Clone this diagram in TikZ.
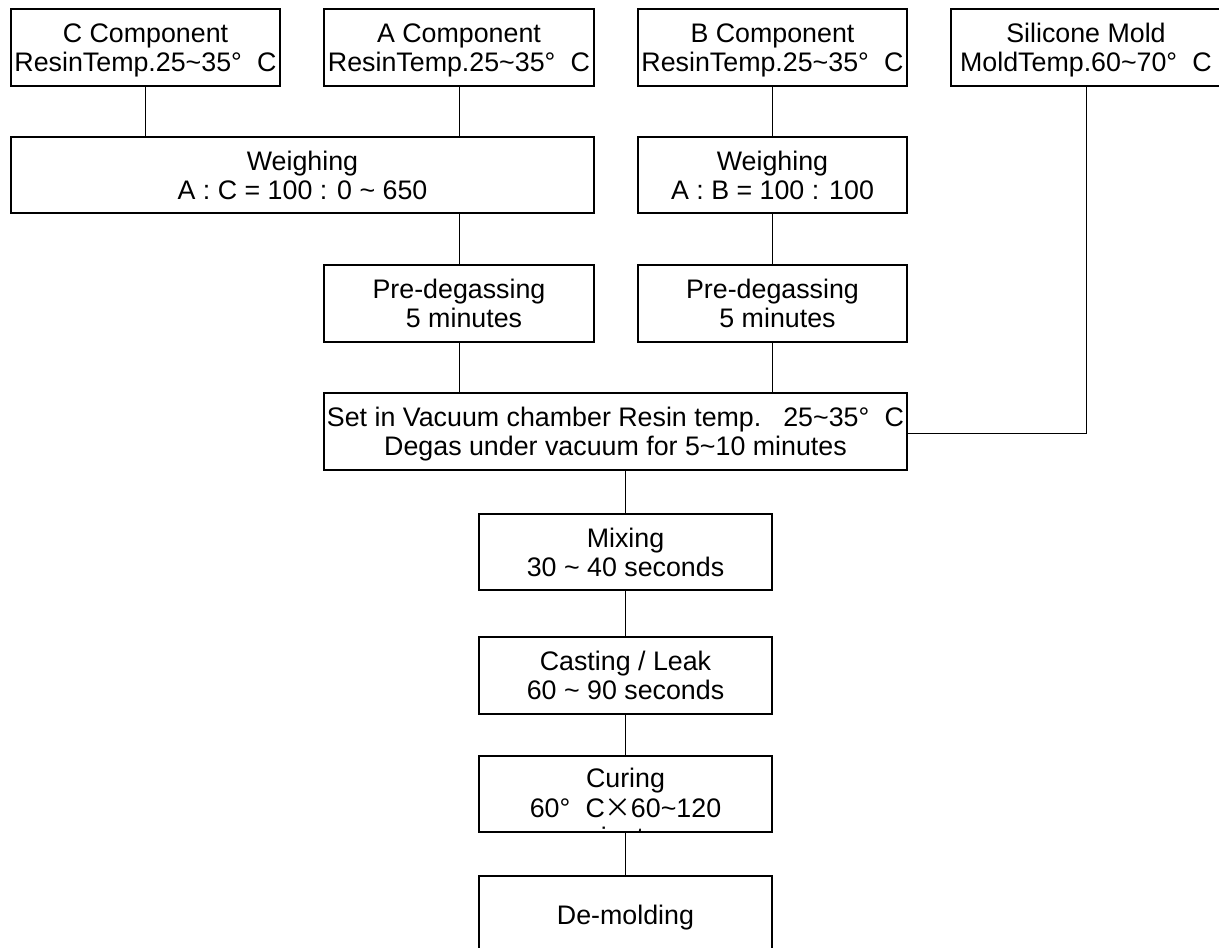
\documentclass[tikz,border=0pt]{standalone}
\usepackage{fontspec}
\setmainfont{Liberation Sans}
\newfontfamily\cjk{Noto Sans CJK JP}
\newcommand\dg{\makebox[26pt][l]{°}}
\newcommand\tms{\makebox[26pt][c]{\fontsize{27}{29}\selectfont\cjk ×}}
\newcommand\tld{\textasciitilde}
\begin{document}
\begin{tikzpicture}[x=1pt,y=-1pt,
  box/.style={draw, line width=1.1pt, inner sep=0pt, minimum height=77pt, align=center,
    font=\fontsize{26.8}{29}\selectfont, text height=48.2pt, text depth=0pt},
  onel/.style={text height=19.2pt, text depth=0pt},
  txt/.style={inner sep=0pt, anchor=base, font=\fontsize{26.8}{29}\selectfont},
  con/.style={line width=0.9pt}]
\clip (0,0) rectangle (1219,948);
% top row
\node[box, minimum width=269pt] (C) at (145.5,47.5) {C Component\\ResinTemp.25\tld 35\dg C};
\node[box, minimum width=270pt] (A) at (459,47.5) {A Component\\ResinTemp.25\tld 35\dg C};
\node[box, minimum width=269pt] (B) at (772.5,47.5) {B Component\\ResinTemp.25\tld 35\dg C};
\node[box, minimum width=270pt] (S) at (1086,47.5) {Silicone Mold\\MoldTemp.60\tld 70\dg C};
% weighing
\node[box, minimum width=583pt, minimum height=76pt] (WL) at (302.5,175) {Weighing\\A : C = 100 : 0 \tld\ 650};
\node[box, minimum width=269pt, minimum height=76pt] (WR) at (772.5,175) {Weighing\\A : B = 100 : 100};
% pre-degassing
\node[box, minimum width=270pt] (PL) at (459,303.5) {Pre-degassing\\\hspace*{10pt}5 minutes};
\node[box, minimum width=269pt] (PR) at (772.5,303.5) {Pre-degassing\\\hspace*{10pt}5 minutes};
% vacuum
\node[box, minimum width=583pt] (V) at (615.5,431.5) {Set in Vacuum chamber Resin temp.\hspace{22pt}25\tld 35\dg C\\Degas under vacuum for 5\tld 10 minutes};
% chain
\node[box, minimum width=293pt, minimum height=76pt] (M) at (625.5,552) {Mixing\\30 \tld\ 40 seconds};
\node[box, minimum width=293pt] (Cast) at (625.5,675.5) {Casting / Leak\\60 \tld\ 90 seconds};
\node[box, minimum width=293pt, minimum height=76pt] (Cure) at (625.5,794) {};
\begin{scope}
  \clip (Cure.north west) rectangle (Cure.south east);
  \node[txt] (cure1) at (625.5,787) {Curing};
  \node[txt] (cure2) at (625.5,817) {60\dg C\tms 60\tld 120};
  \node[txt] (cure3) at (625.5,846) {minutes};
\end{scope}
\node[box, onel, minimum width=293pt] (D) at (625.5,914.5) {De-molding};
% connectors
\draw[con] (C.south) -- (C.south |- WL.north);
\draw[con] (A.south) -- (A.south |- WL.north);
\draw[con] (B.south) -- (WR.north);
\draw[con] (PL.north |- WL.south) -- (PL.north);
\draw[con] (WR.south) -- (PR.north);
\draw[con] (PL.south) -- (PL.south |- V.north);
\draw[con] (PR.south) -- (PR.south |- V.north);
\coordinate (vj) at ([yshift=-1.5pt]V.east);
\draw[con] (S.south) |- (vj);
\draw[con] (M.north |- V.south) -- (M.north);
\draw[con] (M.south) -- (Cast.north);
\draw[con] (Cast.south) -- (Cure.north);
\draw[con] (Cure.south) -- (D.north);
\end{tikzpicture}
\end{document}
